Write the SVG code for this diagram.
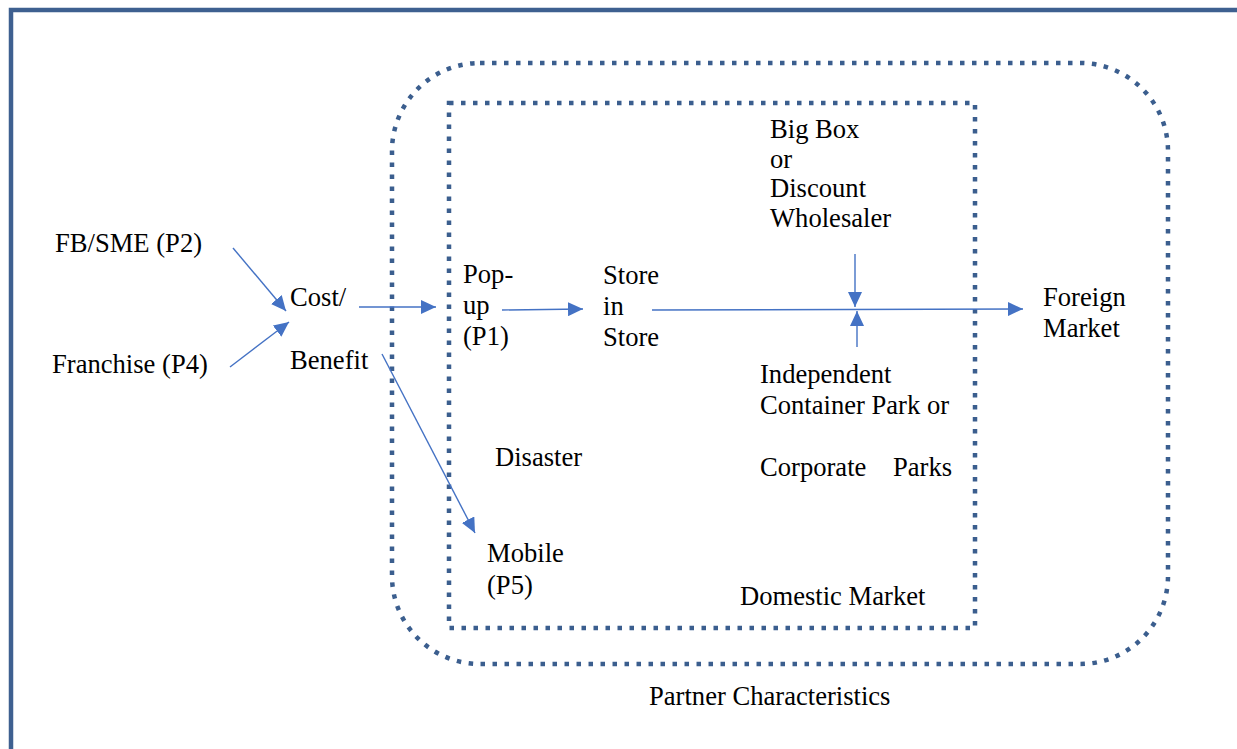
<svg xmlns="http://www.w3.org/2000/svg" width="1237" height="749" viewBox="0 0 1237 749">
  <style>
    .lbl { font-family: "Liberation Serif", "Times New Roman", serif; font-size: 26.6px; fill: #000; }
    .frame { fill: none; stroke: #3E6090; stroke-width: 4.5; }
    .dots { fill: none; stroke: #3B5E8E; stroke-width: 4.5; stroke-dasharray: 4.5 7.5; }
    .conn { fill: none; stroke: #4472C4; stroke-width: 1.4; marker-end: url(#arrow); }
  </style>
  <defs>
    <marker id="arrow" markerUnits="userSpaceOnUse" markerWidth="16" markerHeight="14" refX="15" refY="7" orient="auto">
      <path d="M0,0 L15,7 L0,14 z" fill="#4472C4"/>
    </marker>
  </defs>
  <rect width="1237" height="749" fill="#fff"/>

  <!-- page frame, open to the right and bottom -->
  <path class="frame" d="M11,749 V10 H1240"/>

  <!-- boundaries -->
  <g id="partner-characteristics">
    <rect class="dots" x="392" y="63" width="776" height="601" rx="88" ry="88"/>
    <text class="lbl" x="649" y="705">Partner Characteristics</text>
  </g>
  <g id="domestic-market">
    <rect class="dots" x="449" y="103" width="526" height="525"/>
    <text class="lbl" x="740" y="605">Domestic Market</text>
  </g>

  <!-- nodes -->
  <g id="fb-sme"><text class="lbl" x="55" y="252">FB/SME (P2)</text></g>
  <g id="franchise"><text class="lbl" x="52" y="373">Franchise (P4)</text></g>
  <g id="cost-benefit">
    <text class="lbl" x="290" y="306">Cost/</text>
    <text class="lbl" x="290" y="369">Benefit</text>
  </g>
  <g id="pop-up">
    <text class="lbl" x="463" y="283">Pop-</text>
    <text class="lbl" x="463" y="314">up</text>
    <text class="lbl" x="463" y="345">(P1)</text>
  </g>
  <g id="store-in-store">
    <text class="lbl" x="603" y="284">Store</text>
    <text class="lbl" x="603" y="315">in</text>
    <text class="lbl" x="603" y="346">Store</text>
  </g>
  <g id="big-box">
    <text class="lbl" x="770" y="138">Big Box</text>
    <text class="lbl" x="770" y="168">or</text>
    <text class="lbl" x="770" y="197">Discount</text>
    <text class="lbl" x="770" y="227">Wholesaler</text>
  </g>
  <g id="container-park">
    <text class="lbl" x="760" y="383">Independent</text>
    <text class="lbl" x="760" y="414">Container Park or</text>
    <text class="lbl" x="760" y="476" xml:space="preserve">Corporate    Parks</text>
  </g>
  <g id="disaster"><text class="lbl" x="495" y="466">Disaster</text></g>
  <g id="mobile">
    <text class="lbl" x="487" y="562">Mobile</text>
    <text class="lbl" x="487" y="594">(P5)</text>
  </g>
  <g id="foreign-market">
    <text class="lbl" x="1043" y="306">Foreign</text>
    <text class="lbl" x="1043" y="337">Market</text>
  </g>

  <!-- connectors -->
  <g id="connectors">
    <line class="conn" x1="233" y1="248" x2="286" y2="311"/>
    <line class="conn" x1="230" y1="367" x2="289" y2="322"/>
    <line class="conn" x1="359" y1="307" x2="436" y2="307"/>
    <line class="conn" x1="382" y1="354" x2="475" y2="533"/>
    <line class="conn" x1="502" y1="310" x2="583" y2="309"/>
    <line class="conn" x1="652" y1="310" x2="1023" y2="309"/>
    <line class="conn" x1="855" y1="254" x2="855" y2="307"/>
    <line class="conn" x1="857" y1="347" x2="857" y2="311"/>
  </g>
</svg>
